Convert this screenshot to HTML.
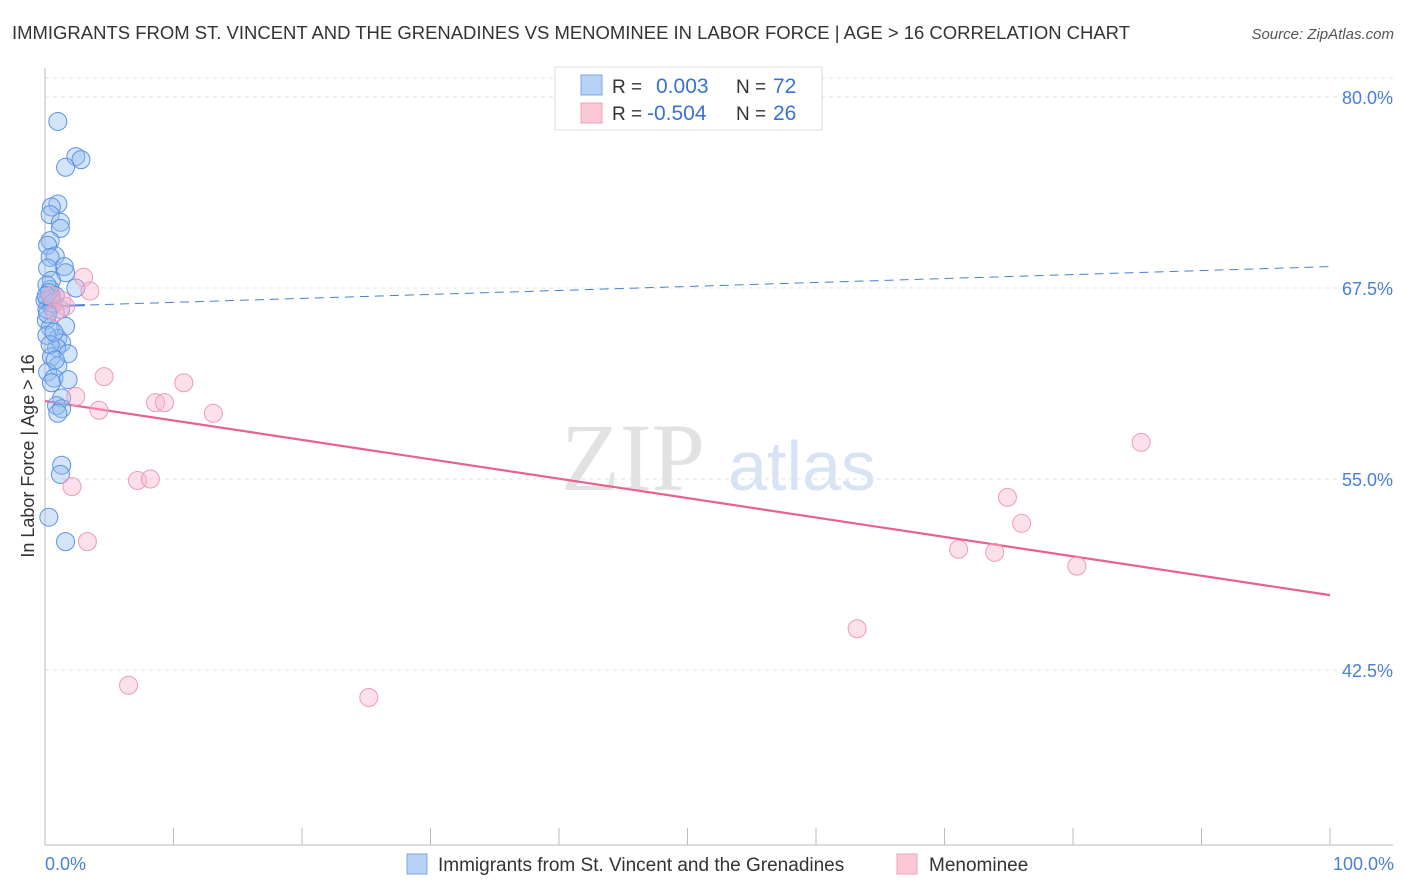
<!DOCTYPE html>
<html><head><meta charset="utf-8"><style>
body{margin:0;background:#fff;font-family:"Liberation Sans",sans-serif;}
svg{display:block}
</style></head><body>
<svg id="chart" width="1406" height="892">
<text x="12" y="39" font-size="18" fill="#333" textLength="1118" lengthAdjust="spacingAndGlyphs">IMMIGRANTS FROM ST. VINCENT AND THE GRENADINES VS MENOMINEE IN LABOR FORCE | AGE &gt; 16 CORRELATION CHART</text>
<text x="1394" y="39" font-size="15" fill="#555" font-style="italic" text-anchor="end">Source: ZipAtlas.com</text>
<text x="633" y="490" font-size="96" fill="#e2e2e2" font-family="Liberation Serif,serif" text-anchor="middle">ZIP</text>
<text x="802" y="490" font-size="70" fill="#d8e4f5" text-anchor="middle">atlas</text>
<g id="grid"></g>
<g id="axes"></g>
<g id="trends"></g>
<g id="points"></g>
<text transform="translate(34,456) rotate(-90)" font-size="18" fill="#333" text-anchor="middle">In Labor Force | Age &gt; 16</text>
<text x="45" y="870" font-size="18" fill="#4a7fd4">0.0%</text>
<text x="1394" y="870" font-size="18" fill="#4a7fd4" text-anchor="end">100.0%</text>
<g>
<rect x="555" y="67" width="267" height="63" fill="#fff" stroke="#ddd"/>
<rect x="581" y="75" width="21" height="20" fill="#b8d2f5" stroke="#7aa8e6"/>
<rect x="581" y="103" width="21" height="20" fill="#fbc8d6" stroke="#f0a0bb"/>
<text x="612" y="93" font-size="19" fill="#333">R = </text><text x="656" y="93" font-size="21" fill="#3a72d0">0.003</text>
<text x="736" y="93" font-size="19" fill="#333">N = </text><text x="773" y="93" font-size="21" fill="#3a72d0">72</text>
<text x="612" y="120" font-size="19" fill="#333">R = </text><text x="647" y="120" font-size="21" fill="#3a72d0">-0.504</text>
<text x="736" y="120" font-size="19" fill="#333">N = </text><text x="773" y="120" font-size="21" fill="#3a72d0">26</text>
</g>
<g>
<rect x="407" y="854" width="20" height="20" fill="#b8d2f5" stroke="#7aa8e6"/>
<text x="438" y="871" font-size="19" fill="#333">Immigrants from St. Vincent and the Grenadines</text></g>
<g>
<rect x="897" y="854" width="20" height="20" fill="#fbc8d6" stroke="#f0a0bb"/>
<text x="929" y="871" font-size="19" fill="#333">Menominee</text></g>
</svg>
<script>
const yTicks=[80,67.5,55,42.5];
const yTickLabels=["80.0%","67.5%","55.0%","42.5%"];
const blueX=[1.0,2.4,2.8,1.6,1.0,0.5,0.4,1.2,1.2,0.4,0.2,0.8,0.4,1.5,1.6,0.2,0.5,2.4,0.4,0.8,0.2,0.5,1.2,0.1,1.6,0.4,1.0,1.3,0.9,1.8,0.5,1.0,0.2,0.7,1.8,0.5,1.3,0.9,1.3,1.0,1.3,1.2,0.3,1.6,0.15,0.5,0.15,0.4,0.8,0.15,0.0,0.3,0.6,0.2,0.1,0.7];
const blueY=[78.4,76.1,75.9,75.4,73.0,72.8,72.3,71.8,71.4,70.6,70.3,69.6,69.5,68.9,68.5,68.8,68.0,67.5,67.4,67.0,66.7,66.3,66.1,65.4,65.0,64.9,64.2,63.9,63.6,63.2,63.0,62.4,62.0,61.6,61.5,61.3,60.3,59.8,59.6,59.3,55.9,55.3,52.5,50.9,67.7,66.8,64.4,63.8,62.8,66.1,66.7,67.2,66.5,65.8,67.0,64.6];
const pinkX=[3.0,3.5,1.3,1.6,4.6,10.8,2.4,4.2,8.6,9.3,13.1,7.2,8.2,2.1,3.3,6.5,25.2,85.3,74.9,76.0,71.1,73.9,80.3,63.2,0.5,0.8];
const pinkY=[68.2,67.3,66.7,66.3,61.7,61.3,60.4,59.5,60.0,60.0,59.3,54.9,55.0,54.5,50.9,41.5,40.7,57.4,53.8,52.1,50.4,50.2,49.3,45.2,67.0,65.9];
const blueTrend=[66.3,68.9];
const pinkTrend=[60.1,47.4];
const NS="http://www.w3.org/2000/svg";
const xs=v=>45+v*12.85;
const ys=v=>97+(80-v)*15.28;
function mk(tag,attrs,parent){const e=document.createElementNS(NS,tag);for(const k in attrs)e.setAttribute(k,attrs[k]);document.getElementById(parent).appendChild(e);return e;}
let g=mk('line',{x1:45,x2:1393,y1:78,y2:78,stroke:'#e2e2e2','stroke-dasharray':'4,4'},'grid');


yTicks.forEach((t,i)=>{
 const l=mk('line',{x1:45,x2:1393,y1:ys(t),y2:ys(t),stroke:'#e2e2e2','stroke-dasharray':'4,4'},'grid');
 
 
 const tx=mk('text',{x:1393,y:ys(t)+7,'font-size':18,fill:'#4a7fd4','text-anchor':'end'},'grid');
 tx.textContent=yTickLabels[i];
 
 
});
let a=mk('line',{x1:45,x2:45,y1:68,y2:845,stroke:'#bbb'},'axes');


a=mk('line',{x1:45,x2:1393,y1:845,y2:845,stroke:'#bbb'},'axes');


for(let i=0;i<=10;i++){
 const t=mk('line',{x1:xs(i*10),x2:xs(i*10),y1:828,y2:845,stroke:'#bbb'},'axes');
 
 
}
let tl=mk('line',{x1:xs(0),x2:xs(3.1),y1:ys(blueTrend[0]),y2:ys(blueTrend[0]+(blueTrend[1]-blueTrend[0])*0.031),stroke:'#3a72d0','stroke-width':2},'trends');


tl=mk('line',{x1:xs(0),x2:xs(100),y1:ys(blueTrend[0]),y2:ys(blueTrend[1]),stroke:'#4a7fd4','stroke-width':1,'stroke-dasharray':'9,6'},'trends');


tl=mk('line',{x1:xs(0),x2:xs(100),y1:ys(pinkTrend[0]),y2:ys(pinkTrend[1]),stroke:'#e8618f','stroke-width':2.2},'trends');


blueX.forEach((x,i)=>{
 const c=mk('circle',{cx:xs(x),cy:ys(blueY[i]),r:9,fill:'rgba(150,190,240,0.4)',stroke:'#5b93e0','stroke-width':1},'points');
 
 
});
pinkX.forEach((x,i)=>{
 const c=mk('circle',{cx:xs(x),cy:ys(pinkY[i]),r:9,fill:'rgba(247,180,204,0.4)',stroke:'#ee9ab8','stroke-width':1},'points');
 
 
});
</script>
</body></html>
